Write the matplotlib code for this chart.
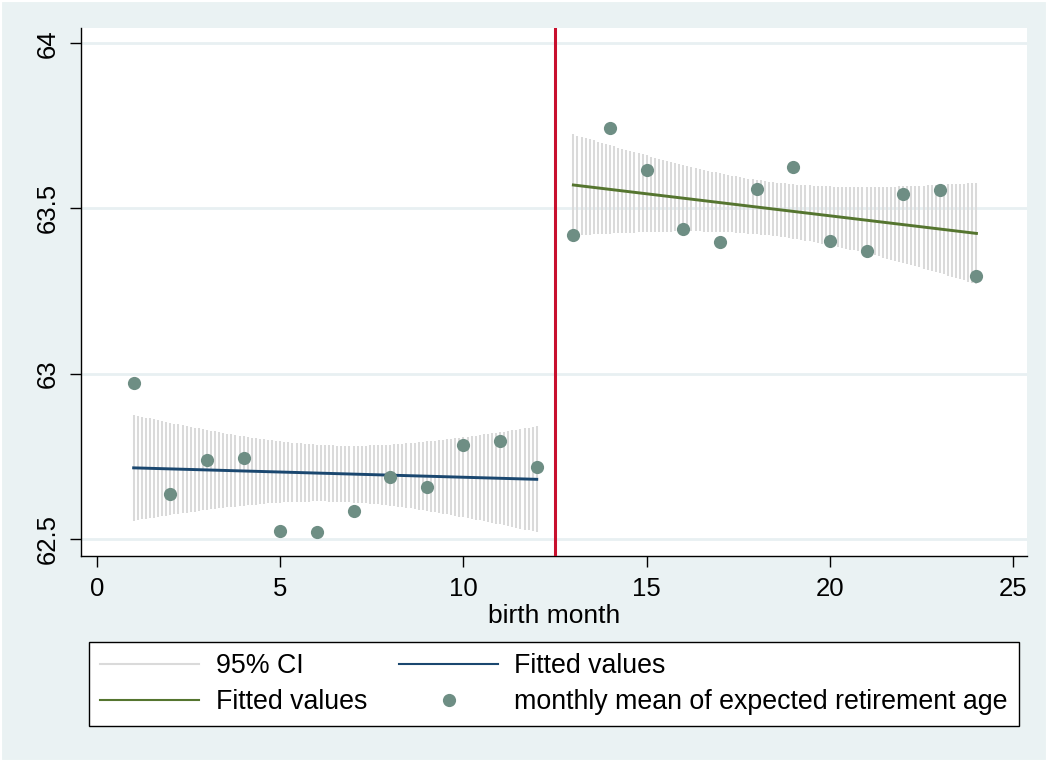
import numpy as np
import matplotlib
matplotlib.use("Agg")
import matplotlib.pyplot as plt
from matplotlib.lines import Line2D

# ---- data ----
months = [1, 2, 3, 4, 5, 6, 7, 8, 9, 10, 11, 12,
          13, 14, 15, 16, 17, 18, 19, 20, 21, 22, 23, 24]
mean_ret_age = [62.971, 62.636, 62.740, 62.746, 62.524, 62.521, 62.585, 62.688,
                62.658, 62.785, 62.797, 62.718,
                63.420, 63.742, 63.617, 63.438, 63.399, 63.560, 63.626, 63.402,
                63.371, 63.544, 63.557, 63.295]
cutoff = 12.5
yticks = [62.5, 63, 63.5, 64]
ytick_labels = ['62.5', '63', '63.5', '64']
xticks = [0, 5, 10, 15, 20, 25]
T975_DF10 = 2.2281  # t critical value, 95% CI, 10 df

months = np.array(months, float)
mean_ret_age = np.array(mean_ret_age, float)

plt.rcParams['font.family'] = ['Liberation Sans', 'DejaVu Sans']

BG = '#EAF2F3'
GRID = '#E8F0F2'
CI_COL = '#DADADA'
NAVY = '#1A476F'
GREEN = '#55752F'
TEAL = '#6E8E84'
RED = '#C8102E'

fig = plt.figure(figsize=(10.48, 7.62), dpi=100, facecolor=BG)
ax = fig.add_axes([81/1048, 1-556/762, (1027-81)/1048, (556-28)/762])
ax.set_facecolor('white')


def lfitci(x, y, n=100):
    b, a = np.polyfit(x, y, 1)
    yhat = a + b*x
    s = np.sqrt(np.sum((y-yhat)**2)/(len(x)-2))
    xbar = x.mean()
    sxx = np.sum((x-xbar)**2)
    xg = np.linspace(x.min(), x.max(), n)
    fg = a + b*xg
    se = s*np.sqrt(1/len(x) + (xg-xbar)**2/sxx)
    return xg, fg, fg - T975_DF10*se, fg + T975_DF10*se


left = months < cutoff
right = months > cutoff
segs = []
for m in (left, right):
    segs.append(lfitci(months[m], mean_ret_age[m]))

for xg, fg, lo, hi in segs:
    ax.vlines(xg, lo, hi, colors=CI_COL, linewidth=1.45, zorder=2)
ax.plot(segs[0][0], segs[0][1], color=NAVY, lw=2.1, zorder=3)
ax.plot(segs[1][0], segs[1][1], color=GREEN, lw=2.1, zorder=3)
ax.scatter(months, mean_ret_age, s=9.5**2, color=TEAL, zorder=4, linewidths=0)
ax.axvline(cutoff, color=RED, lw=2.2, zorder=5)

ax.set_xlim(-0.437, 25.38)
ax.set_ylim(62.448, 64.046)
ax.set_xticks(xticks)
ax.set_yticks(yticks)
ax.set_yticklabels(ytick_labels, rotation=90, va='center')
ax.grid(axis='y', color=GRID, lw=2.0, zorder=0)
ax.set_axisbelow(True)
for sp in ('top', 'right'):
    ax.spines[sp].set_visible(False)
for sp in ('left', 'bottom'):
    ax.spines[sp].set_linewidth(1.0)
ax.tick_params(axis='both', direction='out', length=8, width=1.0,
               labelsize=18.5, pad=7)
ax.set_xlabel('birth month', fontsize=19, labelpad=2)

handles = [
    Line2D([], [], color=CI_COL, lw=1.5),
    Line2D([], [], color=GREEN, lw=1.5),
    Line2D([], [], color=NAVY, lw=1.5),
    Line2D([], [], color=TEAL, marker='o', ls='none', markersize=9.5, markeredgewidth=0),
]
labels = ['95% CI', 'Fitted values', 'Fitted values',
          'monthly mean of expected retirement age']
leg = fig.legend(handles, labels, ncol=2, fontsize=19.3,
                 loc='upper left', bbox_to_anchor=(89/1048, 1-642/762),
                 frameon=True, fancybox=False, edgecolor='black', framealpha=1,
                 handlelength=3.7, handletextpad=0.6, columnspacing=1.2,
                 borderpad=0.42, labelspacing=0.36, borderaxespad=0)
leg.get_frame().set_linewidth(1.0)
leg.get_frame().set_facecolor('white')

fig.patches.append(plt.Rectangle((0, 0), 1, 1, transform=fig.transFigure,
                                 fill=False, edgecolor='white', lw=3, zorder=-1))

fig.savefig('out.png', dpi=100, facecolor=BG)
